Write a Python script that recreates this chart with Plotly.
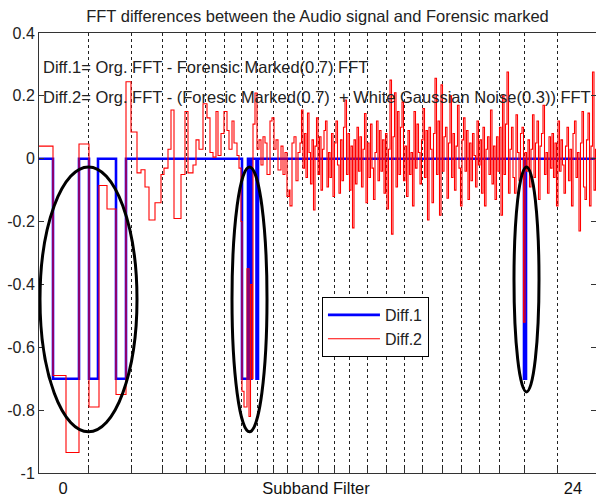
import numpy as np
import plotly.graph_objects as go

# ---------------- data (x in frequency-bin units) ----------------
band_edges = [49, 92, 123, 147, 166, 185, 202, 218, 234, 248, 263, 279,
              295, 310, 328, 347, 365, 383, 403, 422, 440, 460, 485, 518]

# Diff.1 : step edges and values
diff1_edges = [0, 14, 40, 50, 59, 77, 87, 203, 209, 211, 212.5, 217.5, 219, 485, 487, 558]
diff1_vals = [0, -0.7, 0, -0.7, 0, -0.7, 0, -0.7, 0, -0.7, 0, -0.7, 0, -0.7, 0, 0]

# Diff.2 : low-frequency part (explicit step edges)
diff2_low_edges = [0, 14, 27, 40, 50, 60, 68, 77, 87, 92, 98, 102, 106, 110, 116, 122,
                   125, 129, 132, 135, 142, 146, 149, 154, 157, 160, 164, 168, 171, 174,
                   177, 179, 182, 185, 188, 190, 193, 195, 198, 200, 202, 203, 205, 208,
                   210, 211.5, 213, 214, 216, 218, 220, 222, 224, 226, 228, 231, 233,
                   235, 237, 239, 242, 244, 246, 248, 250, 251, 253, 255, 257, 259]
diff2_low_vals = [0.04, -0.69, -0.935, 0.047, -0.79, -0.085, -0.16, -0.75, 0.245, 0.085,
                  -0.045, -0.035, -0.09, -0.195, -0.14, -0.05, -0.03, 0.03, 0.155, -0.19,
                  -0.05, 0.15, -0.045, -0.02, 0.06, 0.03, 0.175, 0.13, 0.02, 0.005,
                  0.15, 0.01, 0.08, 0.15, 0.09, 0.03, 0.12, 0.05, 0.01, -0.03,
                  -0.2, -0.74, -0.79, -0.35, -0.82, -0.4, -0.7, 0.11, 0.209, 0.03,
                  0.06, -0.02, 0.07, 0.05, -0.05, 0.12, 0.13, 0.03, 0.06, -0.036,
                  0.04, -0.05, 0.02, -0.12, -0.1, -0.15, 0.05, 0.07, -0.07, 0.02]

# Diff.2 : high-frequency part (dense bins, starting at bin 261, 1.5 bins apart)
diff2_high_start = 261
diff2_high_step = 1.5
diff2_high_vals = [
    0.05, 0.155, -0.03, 0.08, -0.06, 0.145, 0.02, -0.08, 0.06, -0.163,
    0.04, 0.13, -0.05, 0.07, -0.1, 0.03, 0.09, 0.12, -0.09, 0.02,
    -0.06, 0.08, -0.12, 0.05, 0.12, -0.02, -0.11, 0.06, -0.07, 0.1,
    0.187, -0.05, 0.08, -0.1, 0.04, -0.22, 0.06, -0.08, 0.1, -0.04,
    0.07, -0.09, 0.03, 0.144, -0.14, 0.05, -0.06, 0.11, -0.03, -0.13,
    0.02, 0.12, -0.07, 0.09, -0.04, 0.06, -0.11, 0.08, -0.16, 0.03,
    0.25, -0.24, 0.07, 0.21, -0.09, 0.15, -0.05, 0.1, 0.18, -0.07,
    0.04, -0.12, 0.09, -0.05, 0.02, -0.15, 0.15, -0.03, 0.11, 0.02,
    -0.08, 0.06, 0.16, -0.06, 0.09, -0.195, 0.1, 0.03, -0.14, 0.08,
    0.256, -0.05, 0.12, -0.18, 0.235, -0.04, 0.07, 0.1, -0.126, 0.05,
    0.2, -0.06, 0.08, -0.1, 0.04, 0.17, -0.03, -0.15, 0.06, 0.13,
    -0.04, 0.09, -0.13, 0.05, -0.07, 0.08, 0.01, -0.09, 0.12, -0.02,
    0.06, -0.11, 0.1, -0.15, 0.03, 0.07, -0.05, 0.155, -0.08, 0.04,
    -0.13, 0.07, -0.04, 0.1, -0.18, 0.2, -0.05, 0.11, 0.276, -0.11,
    0.03, 0.1, -0.06, -0.11, 0.14, 0.02, -0.07, 0.08, 0.1, -0.52,
    0.02, -0.04, 0.06, -0.09, 0.03, 0.14, -0.06, 0.05, 0.12, -0.13,
    0.04, 0.08, 0.17, -0.05, 0.02, -0.11, 0.07, -0.03, 0.08, -0.06,
    0.05, -0.15, 0.12, -0.04, 0.06, -0.02, -0.11, 0.04, 0.1, -0.07,
    0.03, -0.15, 0.08, 0.12, -0.06, 0.02, -0.23, 0.05, 0.15, -0.09,
    -0.13, 0.06, 0.145, -0.15, 0.04, 0.276, -0.1, 0.03]

# highlighted regions (ellipses): x0, x1, y0, y1 in data units
highlights = [(1, 98, -0.869, -0.026),
              (193, 228, -0.869, -0.026),
              (475, 500, -0.742, -0.026)]

y_ticks = [-1, -0.8, -0.6, -0.4, -0.2, 0, 0.2, 0.4]
y_tick_labels = ["-1", "-0.8", "-0.6", "-0.4", "-0.2", "0", "0.2", "0.4"]
x_label_pos = [24, 277, 534]
x_labels = ["0", "Subband Filter", "24"]

title_text = "FFT differences between the Audio signal and Forensic marked"
note1 = "Diff.1= Org. FFT - Forensic Marked(0.7) FFT"
note2 = "Diff.2= Org. FFT - (Foresic Marked(0.7)  + White Gaussian Noise(0.3)) FFT"
x_end = 558

# ---------------- build step series ----------------
hi_x = [diff2_high_start + diff2_high_step * i for i in range(len(diff2_high_vals))]
d2_x = list(diff2_low_edges) + hi_x + [x_end]
d2_y = list(diff2_low_vals) + list(diff2_high_vals) + [diff2_high_vals[-1]]

FONT = "Liberation Sans, Arial, Helvetica, sans-serif"

fig = go.Figure()
fig.add_trace(go.Scatter(x=diff1_edges, y=diff1_vals, mode="lines", name="Diff.1",
                         line=dict(color="rgb(0,0,255)", width=2.6, shape="hv")))
fig.add_trace(go.Scatter(x=d2_x, y=d2_y, mode="lines", name="Diff.2",
                         line=dict(color="rgb(255,0,0)", width=1.1, shape="hv")))
fig.add_trace(go.Scatter(x=[None], y=[None], yaxis="y2", showlegend=False,
                         hoverinfo="skip"))

shapes = []
for (x0, x1, y0, y1) in highlights:
    shapes.append(dict(type="circle", xref="x", yref="y", x0=x0, x1=x1, y0=y0, y1=y1,
                       line=dict(color="black", width=3), layer="above"))

annotations = [
    dict(x=2, y=0.292, xref="x", yref="y", text=note1, showarrow=False,
         xanchor="left", yanchor="middle", font=dict(family=FONT, size=16.5, color="#222")),
    dict(x=2, y=0.196, xref="x", yref="y", text=note2, showarrow=False,
         xanchor="left", yanchor="middle", font=dict(family=FONT, size=16.5, color="#222")),
]

fig.update_layout(
    width=596, height=497,
    margin=dict(l=39, r=0, t=33, b=24),
    paper_bgcolor="white", plot_bgcolor="white",
    font=dict(family=FONT, size=16, color="#111"),
    title=dict(text=title_text, x=0.5, xref="paper", y=1 - 16 / 497, yref="container",
               xanchor="center", yanchor="middle",
               font=dict(family=FONT, size=16.5, color="#222")),
    showlegend=True,
    legend=dict(x=0.508, y=0.40, xanchor="left", yanchor="top",
                bgcolor="white", bordercolor="black", borderwidth=1, itemwidth=52,
                font=dict(family=FONT, size=16, color="#222")),
    shapes=shapes,
    annotations=annotations,
    xaxis=dict(range=[0, 557], showline=True, linecolor="#333", linewidth=1, mirror=True,
               tickmode="array", tickvals=x_label_pos, ticktext=x_labels, ticks="",
               showgrid=False, zeroline=False, tickfont=dict(size=16.5, color="#111"),
               minor=dict(tickmode="array", tickvals=band_edges, ticks="inside", ticklen=5,
                          tickcolor="#333", showgrid=True, gridcolor="#222",
                          griddash="dot", gridwidth=1)),
    yaxis=dict(range=[-1, 0.4], showline=True, linecolor="#333", linewidth=1,
               tickmode="array", tickvals=y_ticks, ticktext=y_tick_labels,
               ticks="inside", ticklen=5, tickcolor="#333",
               showgrid=False, zeroline=False, tickfont=dict(size=16, color="#222")),
    yaxis2=dict(range=[-1, 0.4], overlaying="y", side="right", anchor="x",
                tickmode="array", tickvals=y_ticks, showticklabels=False,
                ticks="inside", ticklen=5, tickcolor="#333",
                showline=False, showgrid=False, zeroline=False),
)

fig.write_html("out.html")
